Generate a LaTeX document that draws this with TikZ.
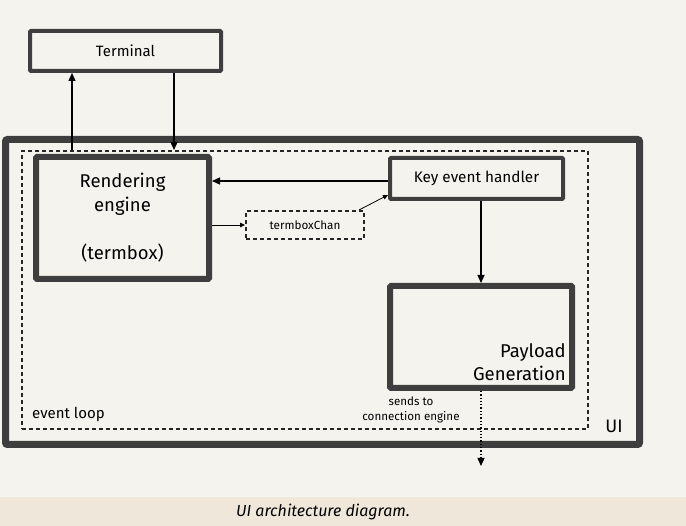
\documentclass[tikz,border=0pt]{standalone}
\usepackage{fontspec}
\setmainfont{Fira Sans}
\usetikzlibrary{positioning,arrows.meta}
\definecolor{bgpaper}{HTML}{F5F3EE}
\definecolor{capband}{HTML}{EFE8DA}
\definecolor{boxline}{HTML}{3E3E3E}
\tikzset{
  heavybox/.style={draw=boxline,line width=6pt,rounded corners=1pt,fill=bgpaper,inner sep=0pt},
  plainbox/.style={draw=boxline,line width=4pt,rounded corners=1pt,fill=bgpaper,inner sep=0pt},
  dashbox/.style={draw=black!85,dashed,dash pattern=on 4pt off 3pt,line width=2pt,inner sep=0pt},
  flow/.style={-{Triangle[length=8pt,width=7pt]},line width=1.3pt},
  thinflow/.style={-{Triangle[length=5pt,width=4.5pt]},line width=0.8pt},
}
\begin{document}
\begin{tikzpicture}[x=1pt,y=-1pt]
  % fond si banda legendei
  \fill[bgpaper] (0,0) rectangle (686,526);
  \fill[capband] (0,497) rectangle (686,526);
  \node[font=\itshape\fontsize{16}{18}\selectfont] (caption) at (323,512) {UI architecture diagram.};

  % cutii
  \node[plainbox,minimum width=191pt,minimum height=40pt,font=\fontsize{15}{17}\selectfont] (term) at (125.5,51) {Terminal};
  \node[draw=boxline,line width=7pt,rounded corners=2pt,minimum width=634pt,minimum height=305pt] (ui) at (322.5,292) {};
  \node[dashbox,minimum width=566pt,minimum height=278pt] (loop) at (305,290) {};
  \node[heavybox,minimum width=173pt,minimum height=122pt,align=center,font=\fontsize{18.5}{24}\selectfont] (render) at (122.5,218) {Rendering\\engine\\\\(termbox)};
  \node[plainbox,minimum width=173pt,minimum height=41pt,font=\fontsize{15.3}{17}\selectfont] (key) at (476.5,178.5) {Key event handler};
  \node[dashbox,minimum width=118pt,minimum height=28pt,font=\fontsize{11.7}{13}\selectfont] (chan) at (305,225) {termboxChan};
  \node[heavybox,minimum width=182pt,minimum height=102pt] (pay) at (481,337) {};
  \node[anchor=east,align=right,inner sep=0pt,font=\fontsize{18.5}{23}\selectfont] (paytext) at (566,362) {Payload\\Generation};

  % etichete
  \node[anchor=west,inner sep=0pt,font=\fontsize{15}{17}\selectfont] (looplabel) at (32,414) {event loop};
  \node[font=\fontsize{18}{20}\selectfont] (uilabel) at (614,426) {UI};
  \node[align=center,font=\fontsize{11.6}{15}\selectfont] (sends) at (411,410) {sends to\\connection engine};
  \coordinate (out) at (481,466);

  % conexiuni
  \draw[flow] (loop.north -| 72,0) -- (term.south -| 72,0);
  \draw[flow] (term.south -| 174,0) -- (loop.north -| 174,0);
  \draw[flow] (key.west |- 0,181) -- (render.east |- 0,181);
  \draw[thinflow] (render.east |- chan.west) -- (chan.west);
  \draw[thinflow] ([xshift=-6pt]chan.north east) -- ([yshift=6pt]key.south west);
  \draw[flow] (key.south -| pay.north) -- (pay.north);
  \draw[flow,dotted,line width=1.3pt] (pay.south) -- (out);
\end{tikzpicture}
\end{document}
